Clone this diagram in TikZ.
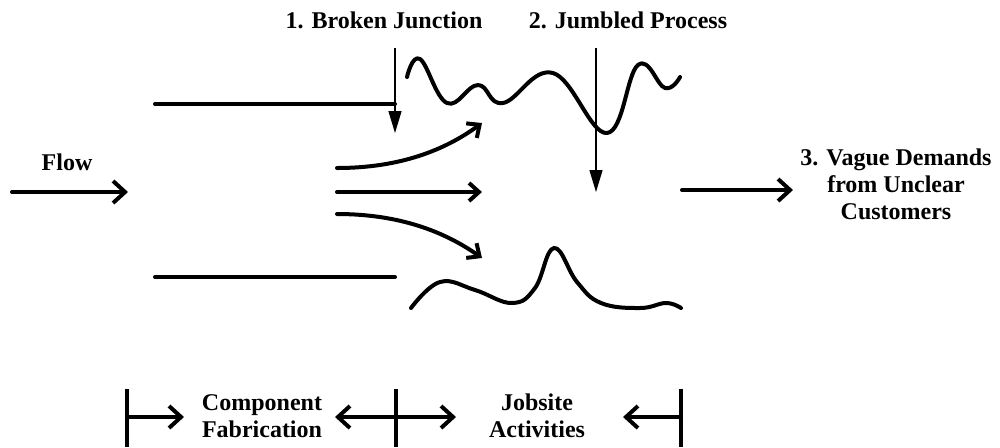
\documentclass[tikz,border=0pt]{standalone}
\usepackage{fontspec}
\setmainfont{Liberation Serif}
\usetikzlibrary{arrows.meta}
\begin{document}
\begin{tikzpicture}[x=0.5pt,y=-0.5pt,
  lbl/.style={font=\bfseries\fontsize{12}{13.5}\selectfont, align=center, inner sep=0pt},
  heavy/.style={line width=2pt, line cap=round},
  wave/.style={line width=2pt, line cap=round, line join=round},
  barb/.style={heavy, -{Straight Barb[length=6pt,width=11pt,line width=2pt]}},
  smallbarb/.style={heavy, -{Straight Barb[length=5pt,width=9pt,line width=2pt]}},
  drop/.style={line width=0.7pt, -{Triangle[length=11pt,width=6.5pt]}},
  tick/.style={line width=1.8pt},
]
\useasboundingbox (0,0) rectangle (1000,447);

% incoming flow
\node[lbl] (flow) at (67,162) {Flow};
\coordinate (flowS) at (12,192);
\coordinate (flowE) at (128,192);
\draw[barb] (flowS) -- (flowE);

% channel walls
\coordinate (topL) at (155,104);
\coordinate (topR) at (395,104);
\coordinate (botL) at (155,277);
\coordinate (botR) at (395,277);
\draw[heavy] (topL) -- (topR);
\draw[heavy] (botL) -- (botR);

% diverging streams
\coordinate (cuS) at (337,168);
\coordinate (cuE) at (482,123);
\coordinate (cmS) at (337,192);
\coordinate (cmE) at (482,192);
\coordinate (clS) at (337,214);
\coordinate (clE) at (482,258);
\draw[smallbarb] (cuS) .. controls (400,168) and (445,150) .. (cuE);
\draw[smallbarb] (cmS) -- (cmE);
\draw[smallbarb] (clS) .. controls (400,214) and (445,232) .. (clE);

% ragged jobsite boundaries
\draw[wave] plot[smooth, tension=0.7] coordinates
  {(407,77) (420,59) (447,103) (478,85) (503,103) (553,73) (607,133) (638,65) (665,88) (680,77)};
\draw[wave] plot[smooth, tension=0.7] coordinates
  {(411,308) (440,282) (475,290) (512,303) (535,288) (554,248) (577,282) (601,303) (640,308) (666,303) (681,308)};

% problem markers
\node[lbl] (bj) at (384,20) {1. Broken Junction};
\node[lbl] (jp) at (628,20) {2. Jumbled Process};
\coordinate (bjS) at (395,48);
\coordinate (bjE) at (395,133);
\coordinate (jpS) at (596,48);
\coordinate (jpE) at (596,192);
\draw[drop] (bjS) -- (bjE);
\draw[drop] (jpS) -- (jpE);

% outgoing demand
\coordinate (outS) at (682,190);
\coordinate (outE) at (793,190);
\draw[barb] (outS) -- (outE);
\node[lbl] (vd) at (896,184) {3. Vague Demands\\from Unclear\\Customers};

% phase scale
\coordinate (t1a) at (127,389); \coordinate (t1b) at (127,447);
\coordinate (t2a) at (396,389); \coordinate (t2b) at (396,447);
\coordinate (t3a) at (681,389); \coordinate (t3b) at (681,447);
\draw[tick] (t1a) -- (t1b);
\draw[tick] (t2a) -- (t2b);
\draw[tick] (t3a) -- (t3b);
\coordinate (p1) at (127,417); \coordinate (p1e) at (184,417);
\coordinate (p2) at (396,417); \coordinate (p2l) at (335,417); \coordinate (p2r) at (456,417);
\coordinate (p3) at (681,417); \coordinate (p3e) at (623,417);
\draw[barb] (p1) -- (p1e);
\draw[barb] (p2) -- (p2l);
\draw[barb] (p2) -- (p2r);
\draw[barb] (p3) -- (p3e);
\node[lbl] (cf) at (262,416) {Component\\Fabrication};
\node[lbl] (ja) at (537,416) {Jobsite\\Activities};
\end{tikzpicture}
\end{document}
